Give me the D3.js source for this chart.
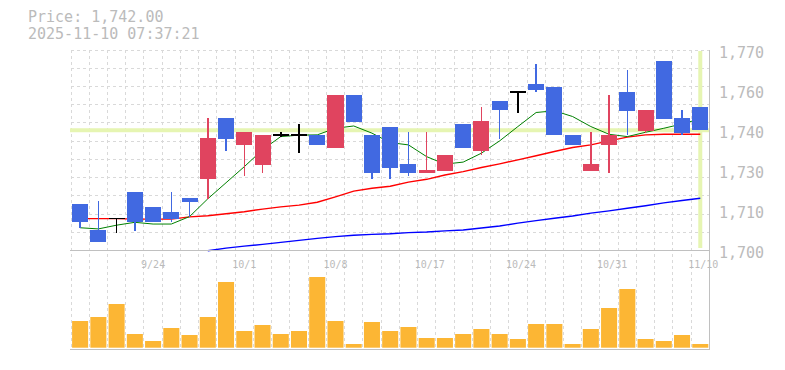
<!DOCTYPE html>
<html>
<head>
<meta charset="utf-8">
<script src="https://cdn.jsdelivr.net/npm/d3@7"></script>
<style>
  body { margin: 0; background: #fff; }
  text { font-family: "DejaVu Sans Mono", monospace; fill: #bbb; }
</style>
</head>
<body>
<div id="chart"></div>
<script>
// daily candles, oldest first
const opens = [1716.3, 1707.2, 1711.2, 1720.5, 1715.3, 1713.5, 1718.4, 1725.0, 1746.4, 1736.9, 1729.9, 1740.4, 1740.4, 1740.4, 1735.9, 1754.4, 1740.4, 1743.2, 1730.3, 1727.2, 1727.9, 1744.2, 1734.8, 1752.3, 1755.3, 1758.2, 1757.2, 1740.4, 1727.8, 1736.9, 1755.4, 1741.8, 1766.2, 1746.3, 1750.2];
const highs = [1716.3, 1717.5, 1711.5, 1720.5, 1715.3, 1720.5, 1718.4, 1746.4, 1746.4, 1741.5, 1740.4, 1741.3, 1744.2, 1740.4, 1754.4, 1754.4, 1740.4, 1743.2, 1741.5, 1741.5, 1733.4, 1744.2, 1750.2, 1752.3, 1755.3, 1765.2, 1757.2, 1740.4, 1741.5, 1754.4, 1763.1, 1749.1, 1766.2, 1749.1, 1750.2];
const lows = [1708.0, 1703.1, 1706.3, 1707.0, 1710.1, 1710.1, 1711.9, 1718.1, 1734.8, 1726.1, 1727.2, 1739.5, 1734.2, 1736.9, 1735.9, 1744.9, 1725.1, 1725.1, 1726.2, 1727.2, 1727.9, 1735.9, 1733.4, 1739.0, 1748.2, 1755.2, 1740.2, 1736.9, 1727.8, 1727.1, 1740.4, 1741.0, 1746.0, 1740.2, 1742.0];
const closes = [1710.1, 1703.1, 1711.2, 1710.1, 1710.1, 1711.2, 1717.1, 1739.4, 1739.0, 1741.5, 1740.4, 1740.4, 1740.4, 1736.9, 1754.4, 1744.9, 1727.2, 1729.0, 1727.2, 1728.2, 1733.4, 1735.9, 1745.3, 1748.9, 1755.3, 1755.9, 1740.2, 1736.9, 1730.3, 1740.4, 1748.8, 1749.1, 1746.0, 1741.1, 1742.0];
const volumes = [267, 307, 437, 137, 67, 197, 127, 307, 657, 167, 227, 137, 167, 707, 267, 37, 257, 167, 207, 97, 97, 137, 187, 137, 87, 237, 237, 37, 187, 397, 587, 87, 67, 127, 37];

// moving averages (short / mid / long)
const maShort = [1708.0, 1707.6, 1708.9, 1709.9, 1709.3, 1709.3, 1711.9, 1718.1, 1723.7, 1729.3, 1735.2, 1739.8, 1740.3, 1740.4, 1742.7, 1743.5, 1741.0, 1737.7, 1736.9, 1732.8, 1730.2, 1730.9, 1734.0, 1738.3, 1743.3, 1748.2, 1748.8, 1746.8, 1743.3, 1740.6, 1739.8, 1741.3, 1742.7, 1744.2, 1746.0];
const maMid = [1711.2, 1711.2, 1711.2, 1711.0, 1711.0, 1711.0, 1711.8, 1712.2, 1712.9, 1713.6, 1714.5, 1715.3, 1715.9, 1716.9, 1718.8, 1720.8, 1721.8, 1722.5, 1723.9, 1724.9, 1726.4, 1727.6, 1729.0, 1730.3, 1731.7, 1733.1, 1734.6, 1736.0, 1736.9, 1738.3, 1739.6, 1740.4, 1740.6, 1740.6, 1740.6];
const maLong = [null, null, null, null, null, null, null, 1700.0, 1700.9, 1701.6, 1702.2, 1702.9, 1703.6, 1704.3, 1704.9, 1705.4, 1705.7, 1705.9, 1706.3, 1706.5, 1706.9, 1707.2, 1707.9, 1708.6, 1709.6, 1710.5, 1711.3, 1712.1, 1713.1, 1713.9, 1714.8, 1715.7, 1716.7, 1717.5, 1718.3];

const dateTickIdx = [4, 9, 14, 19, 24, 29, 34];
const dateTickLabels = ["9/24", "10/1", "10/8", "10/17", "10/24", "10/31", "11/10"];
const priceTicks = [1700, 1714, 1728, 1742, 1756, 1770];
const priceTickLabels = ["1,700", "1,710", "1,730", "1,740", "1,760", "1,770"];

const lastPrice = 1742.00;
const stamp = "2025-11-10 07:37:21";

let spec = {
  left: 71,
  right: 709.4,
  top: 50,
  priceBottom: 250.7,
  volTop: 251,
  volBottom: 347.7,
  bottom: 350
};

let svg = d3.select('#chart')
  .append('svg')
  .attr('width', 785)
  .attr('height', 370);

let idx = d3.range(closes.length);

let x = d3.scaleBand()
  .domain(idx)
  .range([spec.left, spec.right]);

let y = d3.scaleLinear()
  .domain([1700, 1770])
  .range([spec.priceBottom, spec.top]);

let yVol = d3.scaleLinear()
  .domain([0, 967])
  .range([spec.volBottom, spec.volTop]);

let cx = function (i) {
  return x(i) + x.bandwidth() / 2;
};

// grid
let grid = svg.append('g')
  .attr('stroke', '#d9d9d9')
  .attr('stroke-dasharray', '3,3')
  .attr('shape-rendering', 'crispEdges');

grid.selectAll('.vgrid')
  .data(idx)
  .enter()
  .append('line')
  .attr('x1', d => x(d))
  .attr('x2', d => x(d))
  .attr('y1', spec.top)
  .attr('y2', spec.bottom);

grid.selectAll('.hgrid')
  .data(d3.range(11).map(k => 1700 + k * 70 / 11).concat([1770]))
  .enter()
  .append('line')
  .attr('x1', spec.left)
  .attr('x2', 710)
  .attr('y1', d => y(d))
  .attr('y2', d => y(d));

// current price / current day markers
svg.append('line')
  .attr('x1', spec.left - 1)
  .attr('x2', 710)
  .attr('y1', y(lastPrice))
  .attr('y2', y(lastPrice))
  .attr('stroke', '#e6f5b2')
  .attr('stroke-width', 4);

svg.append('line')
  .attr('x1', cx(idx.length - 1))
  .attr('x2', cx(idx.length - 1))
  .attr('y1', spec.top + 1)
  .attr('y2', 248)
  .attr('stroke', '#e6f5b2')
  .attr('stroke-width', 4);

// moving averages
let maLines = [
  { vals: maLong, color: '#0000ff', w: 1.4 },
  { vals: maMid, color: '#ff0000', w: 1.4 },
  { vals: maShort, color: '#008000', w: 1 }
];

maLines.forEach(function (ma) {
  let lineGen = d3.line()
    .defined(d => ma.vals[d] != null)
    .x(d => cx(d))
    .y(d => y(ma.vals[d]));

  svg.append('path')
    .datum(idx)
    .attr('fill', 'none')
    .attr('stroke', ma.color)
    .attr('stroke-width', ma.w)
    .attr('d', lineGen);
});

// candles
let candleColor = function (i) {
  if (closes[i] > opens[i]) return '#e0445f';
  if (closes[i] < opens[i]) return '#4169e1';
  return '#000';
};

let bodyW = x.bandwidth() - 2.2;

let candles = svg.append('g')
  .attr('shape-rendering', 'crispEdges');

candles.selectAll('.wick')
  .data(idx)
  .enter()
  .append('line')
  .attr('x1', d => cx(d))
  .attr('x2', d => cx(d))
  .attr('y1', d => y(highs[d]))
  .attr('y2', d => y(lows[d]))
  .attr('stroke', candleColor)
  .attr('stroke-width', 1.5);

candles.selectAll('.body')
  .data(idx.filter(i => opens[i] != closes[i]))
  .enter()
  .append('rect')
  .attr('x', d => cx(d) - bodyW / 2)
  .attr('width', bodyW)
  .attr('y', d => y(Math.max(opens[d], closes[d])))
  .attr('height', d => Math.abs(y(opens[d]) - y(closes[d])))
  .attr('fill', candleColor);

candles.selectAll('.doji')
  .data(idx.filter(i => opens[i] == closes[i]))
  .enter()
  .append('line')
  .attr('x1', d => cx(d) - bodyW / 2)
  .attr('x2', d => cx(d) + bodyW / 2)
  .attr('y1', d => y(closes[d]))
  .attr('y2', d => y(closes[d]))
  .attr('stroke', '#000')
  .attr('stroke-width', 1.5);

// volume
svg.append('g')
  .selectAll('rect')
  .data(idx)
  .enter()
  .append('rect')
  .attr('x', d => cx(d) - bodyW / 2)
  .attr('width', bodyW)
  .attr('y', d => yVol(volumes[d]))
  .attr('height', d => spec.volBottom - yVol(volumes[d]))
  .attr('fill', '#fcb634');

// frame
let frame = svg.append('g')
  .attr('stroke', '#c0c0c0')
  .attr('shape-rendering', 'crispEdges');

frame.append('line')
  .attr('x1', spec.left - 1).attr('x2', 710)
  .attr('y1', 250.5).attr('y2', 250.5);

frame.append('line')
  .attr('x1', spec.left - 1).attr('x2', 710)
  .attr('y1', 349.5).attr('y2', 349.5);

frame.append('line')
  .attr('x1', 709.5).attr('x2', 709.5)
  .attr('y1', spec.top).attr('y2', spec.bottom);

// axis labels
svg.append('g')
  .selectAll('text')
  .data(priceTicks)
  .enter()
  .append('text')
  .attr('x', 719)
  .attr('y', d => y(d) + 7.6)
  .style('font-size', '15px')
  .text((d, i) => priceTickLabels[i]);

svg.append('g')
  .selectAll('text')
  .data(dateTickIdx)
  .enter()
  .append('text')
  .attr('x', d => cx(d) - 12)
  .attr('y', 267.5)
  .style('font-size', '10px')
  .text((d, i) => dateTickLabels[i]);

// header, two lines
svg.append('text')
  .attr('x', 28)
  .attr('y', 21.5)
  .style('font-size', '15px')
  .text('Price: ' + d3.format(',.2f')(lastPrice));

svg.append('text')
  .attr('x', 28)
  .attr('y', 39.3)
  .style('font-size', '15px')
  .text(stamp);
</script>
</body>
</html>
